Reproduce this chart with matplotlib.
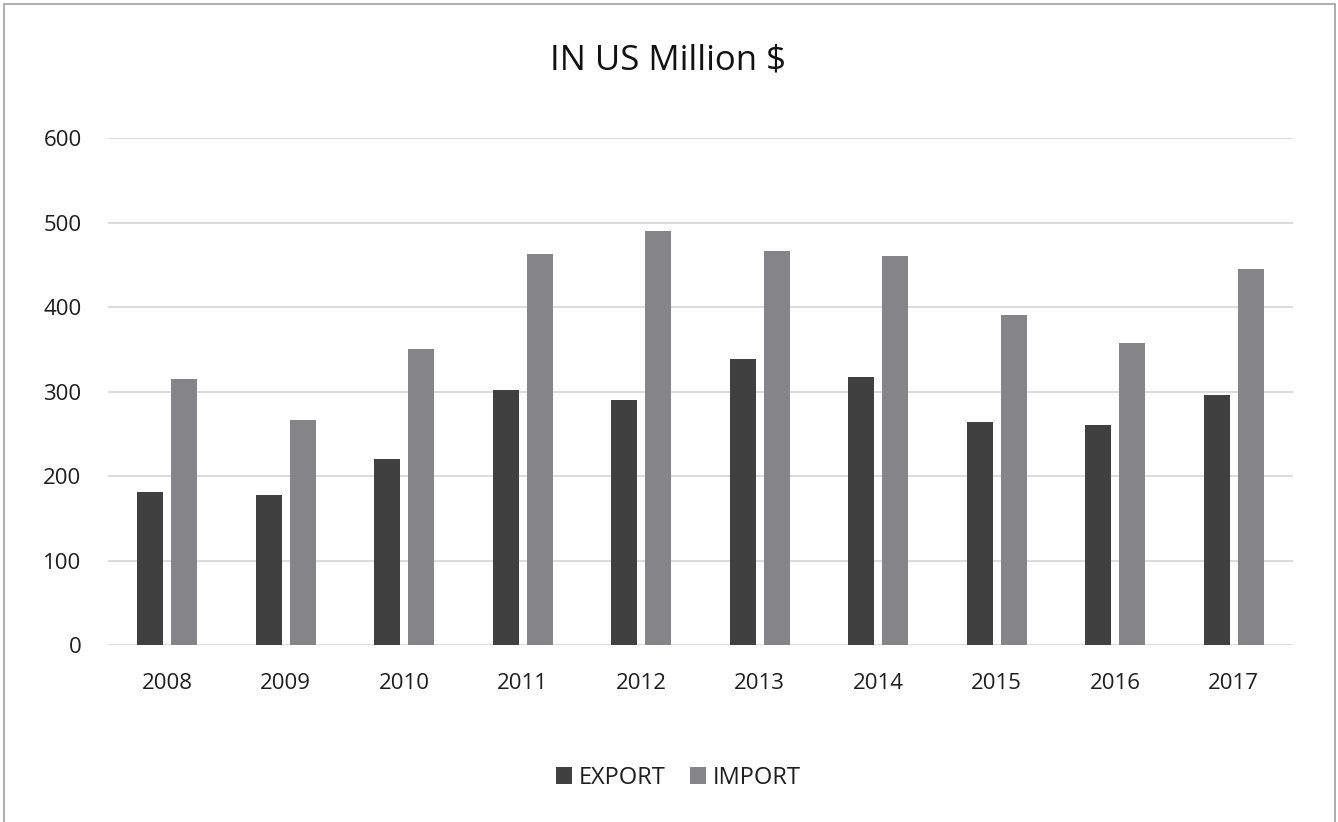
import matplotlib.pyplot as plt
import numpy as np
from matplotlib.patches import Rectangle

years = ["2008", "2009", "2010", "2011", "2012", "2013", "2014", "2015", "2016", "2017"]
export = [181, 177, 220, 302, 290, 338, 317, 264, 260, 296]
imports = [315, 266, 350, 463, 490, 466, 460, 390, 357, 445]

plt.rcParams['font.family'] = ['Open Sans', 'DejaVu Sans']

fig = plt.figure(figsize=(13.38, 8.22), dpi=100)
ax = fig.add_axes([0.0807, 0.2153, 0.8857, 0.6168])

x = np.arange(len(years))
w = 0.22
ax.bar(x - 0.144, export, w, color='#404040', label='EXPORT', zorder=3)
ax.bar(x + 0.144, imports, w, color='#858588', label='IMPORT', zorder=3)

ax.set_xlim(-0.5, len(years) - 0.5)
ax.set_ylim(0, 600)
ax.set_yticks(range(0, 601, 100))
ax.set_xticks(x)
ax.set_xticklabels(years)
ax.grid(axis='y', color='#d9d9d9', linewidth=1.3, zorder=0)
ax.tick_params(length=0, labelsize=16, colors='#1e1e1e')
ax.tick_params(axis='x', pad=20)
ax.tick_params(axis='y', pad=19)
for s in ax.spines.values():
    s.set_visible(False)

fig.text(0.499, 0.926, "IN US Million $", ha='center', va='center', fontsize=25, color='#111111')

fig.legend(loc='center', bbox_to_anchor=(0.507, 0.054), ncol=2, frameon=False,
           fontsize=17, handlelength=0.7, handleheight=0.7, handletextpad=0.3,
           columnspacing=1.0, labelcolor='#1e1e1e')

fig.add_artist(Rectangle((0.003, -0.01), 0.995, 1.005, transform=fig.transFigure,
                         fill=False, edgecolor='#a0a0a0', linewidth=1.2))

fig.savefig('out.png', dpi=100)
